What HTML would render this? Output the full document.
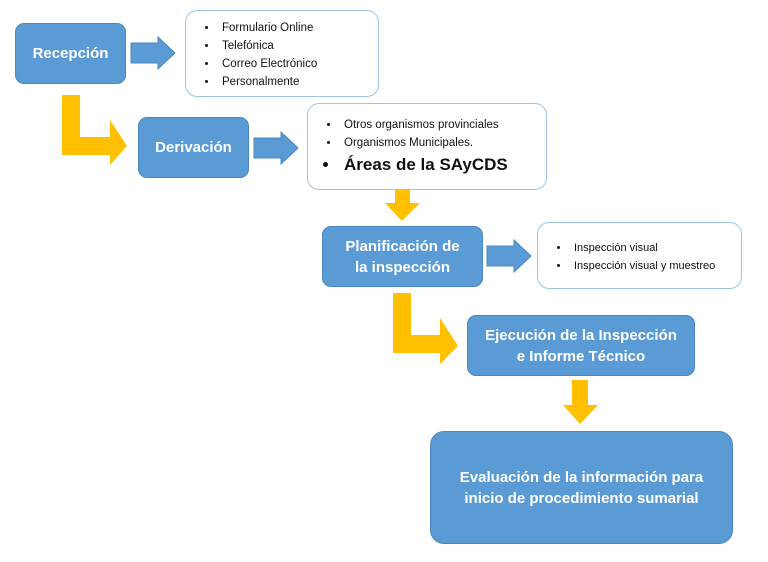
<!DOCTYPE html><html><head><style>
body{margin:0;width:768px;height:562px;background:#fff;position:relative;overflow:hidden;font-family:"Liberation Sans",sans-serif}
.b{position:absolute;background:#5b9bd5;border:1.5px solid #4a87c0;border-radius:9px;color:#fff;font-weight:bold;display:flex;align-items:center;justify-content:center;text-align:center;box-sizing:border-box;line-height:1.4}
.l{position:absolute;border:1.5px solid #9dc3e6;border-radius:12px;box-sizing:border-box;background:#fff;font-size:11.5px;color:#111}
.l ul{margin:0;padding-left:32px}
.l li{line-height:18px;padding-left:4px}
svg{position:absolute;left:0;top:0}
</style></head><body>
<svg width="768" height="562">
<g fill="#5b9bd5" stroke="#4a87c0" stroke-width="1">
<polygon points="131,43 158,43 158,37 175,53 158,69 158,63 131,63"/>
<polygon points="254,138 281,138 281,132 298,148 281,164 281,158 254,158"/>
<polygon points="487,246 514,246 514,240 531,256 514,272 514,266 487,266"/>
</g>
<g fill="#ffc000">
<polygon points="62,95 80,95 80,137 110,137 110,120 127,146 110,165 110,155 62,155"/>
<polygon points="395,180 410,180 410,203 420,203 402,221 385,203 395,203"/>
<polygon points="393,293 411,293 411,335 440,335 440,318 458,346 440,364 440,353 393,353"/>
<polygon points="572,380 588,380 588,405 598,405 580,424 563,405 572,405"/>
</g>
</svg>
<div class="b" style="left:15px;top:23px;width:111px;height:61px;font-size:15px">Recepción</div>
<div class="b" style="left:138px;top:117px;width:111px;height:61px;font-size:15px">Derivación</div>
<div class="b" style="left:322px;top:226px;width:161px;height:61px;font-size:15px">Planificación de<br>la inspección</div>
<div class="b" style="left:467px;top:315px;width:228px;height:61px;font-size:15px">Ejecución de la Inspección<br>e Informe Técnico</div>
<div class="b" style="left:430px;top:431px;width:303px;height:113px;font-size:15px;border-radius:14px">Evaluación de la información para<br>inicio de procedimiento sumarial</div>
<div class="l" style="left:185px;top:10px;width:194px;height:87px;padding-top:8px"><ul><li>Formulario Online</li><li>Telefónica</li><li>Correo Electrónico</li><li>Personalmente</li></ul></div>
<div class="l" style="left:307px;top:103px;width:240px;height:87px;padding-top:12px"><ul><li>Otros organismos provinciales</li><li>Organismos Municipales.</li><li style="font-size:17px;font-weight:bold;line-height:26px">Áreas de la SAyCDS</li></ul></div>
<div class="l" style="left:537px;top:222px;width:205px;height:67px;padding-top:16px;font-size:11px"><ul><li>Inspección visual</li><li>Inspección visual y muestreo</li></ul></div>
</body></html>
